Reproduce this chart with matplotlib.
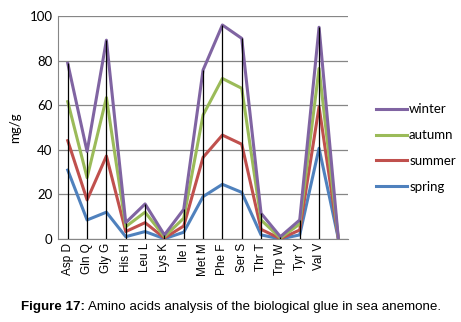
import numpy as np
import matplotlib
matplotlib.use('Agg')
import matplotlib.pyplot as plt

# Данные (мг/г)
categories = ['Asp D', 'Gln Q', 'Gly G', 'His H', 'Leu L', 'Lys K', 'Ile I', 'Met M',
              'Phe F', 'Ser S', 'Thr T', 'Trp W', 'Tyr Y', 'Val V', '']
spring = [30.9, 8.5, 12.0, 1.0, 3.3, 0.1, 3.0, 19.0, 24.5, 20.9, 1.8, 0.0, 1.8, 40.7, 0]
summer = [44.1, 17.5, 37.2, 3.3, 7.3, 0.4, 5.8, 36.6, 46.6, 42.5, 4.3, 0.1, 4.0, 59.3, 0]
autumn = [61.6, 27.5, 63.4, 5.5, 12.0, 1.0, 9.3, 55.6, 72.0, 67.6, 8.5, 0.4, 6.7, 76.5, 0]
winter = [78.8, 39.2, 89.2, 7.3, 15.7, 1.8, 13.3, 75.8, 96.0, 90.0, 11.5, 1.0, 8.5, 95.0, 0]

plt.rcParams['font.family'] = ['Lato', 'DejaVu Sans']

fig = plt.figure(figsize=(4.61, 3.22), dpi=100)
ax = fig.add_axes([0.126, 0.258, 0.629, 0.692])

x = np.arange(len(categories))

# Линии сезонов (весна снизу, зима сверху)
ax.plot(x, spring, color='#4F81BD', lw=2.2, label='spring', zorder=3)
ax.plot(x, summer, color='#C0504D', lw=2.2, label='summer', zorder=4)
ax.plot(x, autumn, color='#9BBB59', lw=2.2, label='autumn', zorder=5)
ax.plot(x, winter, color='#8064A2', lw=2.2, label='winter', zorder=6)

# Вертикальные линии до максимума
ax.vlines(x, 0, winter, color='black', lw=0.9, zorder=7)

ax.set_xlim(-0.5, len(categories) - 0.5)
ax.set_ylim(0, 100)
ax.set_yticks(range(0, 101, 20))
ax.set_xticks(x)
ax.set_xticklabels(categories, rotation=90, fontsize=8.5, family='Liberation Sans')
ax.tick_params(axis='y', labelsize=9.5, length=0, pad=4)
ax.tick_params(axis='x', length=0, pad=3)
ax.grid(axis='y', color='#868686', lw=0.9)
ax.set_axisbelow(True)
for s in ['top', 'right']:
    ax.spines[s].set_visible(False)
ax.spines['left'].set_color('#868686')
ax.spines['bottom'].set_color('#868686')
ax.set_ylabel('mg/g', fontsize=9.5, labelpad=6)

handles, labels = ax.get_legend_handles_labels()
fig.legend(handles[::-1], labels[::-1], loc='center left', bbox_to_anchor=(0.79, 0.54),
           frameon=False, fontsize=9.5, handlelength=2.35, handletextpad=0.15,
           labelspacing=1.05)

# Подпись рисунка: жирная часть + обычная
cap_bold = 'Figure 17:'
cap_rest = ' Amino acids analysis of the biological glue in sea anemone.'
t1 = fig.text(0.046, 0.037, cap_bold, ha='left', fontsize=9.6, weight='bold',
              family='Liberation Sans')
fig.canvas.draw()
bb = t1.get_window_extent()
fig.text(bb.x1 / fig.bbox.width, 0.037, cap_rest, ha='left', fontsize=9.6,
         family='Liberation Sans')

fig.savefig('out.png', dpi=100)
